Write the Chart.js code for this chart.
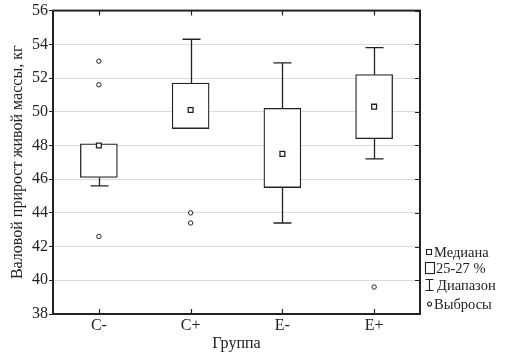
<!DOCTYPE html>
<html>
<head>
<meta charset="utf-8">
<script src="https://cdn.jsdelivr.net/npm/chart.js@4/dist/chart.umd.min.js"></script>
<style>
  html, body { margin: 0; padding: 0; background: #fff; }
  #wrap { width: 514px; height: 353px; }
</style>
</head>
<body>
<div id="wrap"><canvas id="box-chart"></canvas></div>
<script>
// data
const groups = ["C-", "C+", "E-", "E+"];
const q1 = [46.1, 49.0, 45.5, 48.4];
const q3 = [48.1, 51.7, 50.2, 52.2];
const medians = [48.0, 50.1, 47.5, 50.3];
const whiskerLow = [45.6, 49.0, 43.4, 47.2];
const whiskerHigh = [48.1, 54.3, 52.9, 53.8];
const outlierGroups = ["C-", "C-", "C-", "C+", "C+", "E+"];
const outlierValues = [53.0, 51.6, 42.6, 44.0, 43.4, 39.6];
const legendLabels = ["Медиана", "25-27 %", "Диапазон", "Выбросы"];

const INK = "#222";
const FONT = "'Liberation Serif', 'DejaVu Serif', serif";

// whiskers, frame, inner ticks and the legend
const boxExtras = {
  id: "boxExtras",
  beforeDatasetsDraw(chart) {
    const { ctx, scales } = chart;
    const x = scales.x, y = scales.y;
    ctx.save();
    ctx.strokeStyle = INK;
    ctx.lineWidth = 1.3;
    groups.forEach((g, i) => {
      const cx = Math.round(x.getPixelForValue(i)) + 0.5;
      const capHalf = 9;
      const pairs = [[whiskerLow[i], q1[i]], [whiskerHigh[i], q3[i]]];
      pairs.forEach(([w, edge]) => {
        if (Math.abs(w - edge) < 0.01) return;
        const yw = y.getPixelForValue(w);
        const ye = y.getPixelForValue(edge);
        ctx.beginPath();
        ctx.moveTo(cx, ye);
        ctx.lineTo(cx, yw);
        ctx.moveTo(cx - capHalf, yw);
        ctx.lineTo(cx + capHalf, yw);
        ctx.stroke();
      });
    });
    ctx.restore();
  },
  afterDraw(chart) {
    const { ctx, chartArea: a, scales } = chart;
    ctx.save();
    ctx.strokeStyle = INK;
    ctx.lineWidth = 1.2;
    // inward ticks on top, bottom and right
    ctx.beginPath();
    groups.forEach((g, i) => {
      const cx = Math.round(scales.x.getPixelForValue(i)) + 0.5;
      ctx.moveTo(cx, a.top);
      ctx.lineTo(cx, a.top + 5);
      ctx.moveTo(cx, a.bottom);
      ctx.lineTo(cx, a.bottom - 5);
    });
    scales.y.ticks.forEach((t) => {
      const ty = Math.round(scales.y.getPixelForValue(t.value)) + 0.5;
      ctx.moveTo(a.right, ty);
      ctx.lineTo(a.right - 5, ty);
    });
    ctx.stroke();
    // frame
    ctx.lineWidth = 2;
    ctx.strokeRect(a.left, a.top, a.right - a.left, a.bottom - a.top);

    // legend
    const lx = a.right + 9;
    const rows = [a.bottom - 62, a.bottom - 46, a.bottom - 29, a.bottom - 10];
    ctx.font = "14.5px " + FONT;
    ctx.textBaseline = "middle";
    ctx.lineWidth = 1.1;
    // median marker
    ctx.fillStyle = "#fff";
    ctx.fillRect(lx - 2.5, rows[0] - 2.5, 5, 5);
    ctx.strokeRect(lx - 2.5, rows[0] - 2.5, 5, 5);
    // box marker
    ctx.strokeRect(lx - 3.5, rows[1] - 5.5, 9, 11);
    // range marker
    ctx.beginPath();
    ctx.moveTo(lx - 3.5, rows[2] - 5.5);
    ctx.lineTo(lx + 4.5, rows[2] - 5.5);
    ctx.moveTo(lx + 0.5, rows[2] - 5.5);
    ctx.lineTo(lx + 0.5, rows[2] + 5.5);
    ctx.moveTo(lx - 3.5, rows[2] + 5.5);
    ctx.lineTo(lx + 4.5, rows[2] + 5.5);
    ctx.stroke();
    // outlier marker
    ctx.beginPath();
    ctx.arc(lx + 0.5, rows[3], 2, 0, Math.PI * 2);
    ctx.stroke();

    ctx.fillStyle = INK;
    const textX = [lx + 5, lx + 7, lx + 8, lx + 5];
    legendLabels.forEach((lab, i) => ctx.fillText(lab, textX[i], rows[i] + 1));
    ctx.restore();
  },
};

new Chart(document.getElementById("box-chart"), {
  data: {
    labels: groups,
    datasets: [
      {
        type: "bar",
        label: "25-27 %",
        data: q1.map((v, i) => [v, q3[i]]),
        backgroundColor: "#fff",
        borderColor: INK,
        borderWidth: 1.3,
        borderSkipped: false,
        barThickness: 37,
        order: 3,
      },
      {
        type: "line",
        label: "Медиана",
        data: medians,
        showLine: false,
        pointStyle: "rect",
        pointRadius: 3.4,
        pointBackgroundColor: "#fff",
        pointBorderColor: INK,
        pointBorderWidth: 1.3,
        order: 1,
      },
      {
        type: "line",
        label: "Выбросы",
        data: outlierGroups.map((g, i) => ({ x: g, y: outlierValues[i] })),
        showLine: false,
        pointStyle: "circle",
        pointRadius: 2.2,
        pointBackgroundColor: "#fff",
        pointBorderColor: INK,
        pointBorderWidth: 1,
        order: 2,
      },
    ],
  },
  options: {
    responsive: true,
    maintainAspectRatio: false,
    animation: false,
    layout: { padding: { top: 6, right: 94, left: 0, bottom: 0 } },
    plugins: {
      legend: { display: false },
      tooltip: { enabled: false },
    },
    scales: {
      x: {
        type: "category",
        offset: true,
        grid: { display: false, drawTicks: false },
        border: { display: false },
        ticks: { color: INK, font: { family: FONT, size: 16 }, padding: 2 },
        title: {
          display: true,
          text: "Группа",
          color: INK,
          font: { family: FONT, size: 16 },
          padding: { top: 7, bottom: 0 },
        },
        afterFit(s) { s.height = 39; },
      },
      y: {
        min: 38,
        max: 56,
        grid: { color: "#dcdcdc", lineWidth: 1, drawTicks: true, tickLength: 4, tickColor: INK },
        border: { display: false },
        ticks: { stepSize: 2, color: INK, font: { family: FONT, size: 16 }, padding: 1 },
        title: {
          display: true,
          text: "Валовой прирост живой массы, кг",
          color: INK,
          font: { family: FONT, size: 16 },
          padding: { top: 8, bottom: 0 },
        },
        afterFit(s) { s.width = 53; },
      },
    },
  },
  plugins: [boxExtras],
});
</script>
</body>
</html>
